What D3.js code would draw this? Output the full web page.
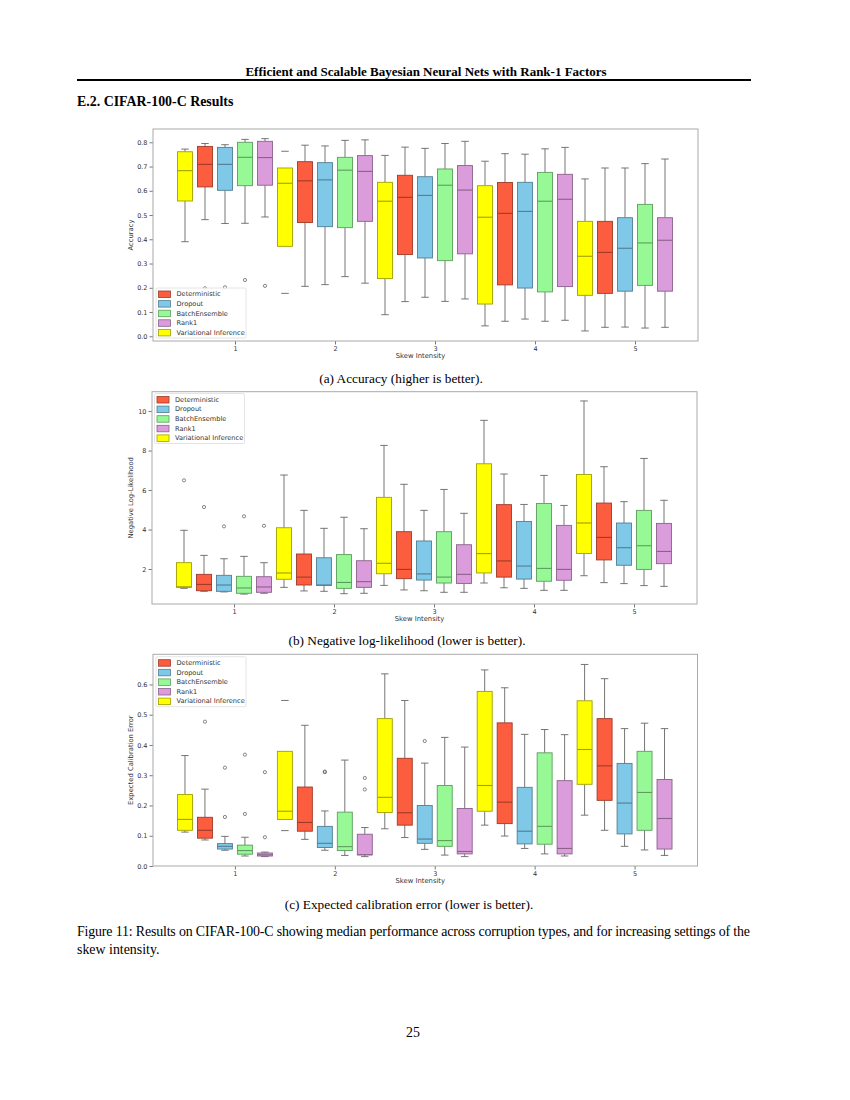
<!DOCTYPE html>
<html>
<head>
<meta charset="utf-8">
<script src="https://cdn.jsdelivr.net/npm/d3@7"></script>
<style>
  body { margin: 0; background: #fff; }
  .serif { font-family: "Liberation Serif", "Times New Roman", serif; fill: #000; }
  .sans { font-family: "DejaVu Sans", sans-serif; fill: #333; }
</style>
</head>
<body>
<div id="page"></div>
<script>
// methods, in legend order
const methods = ['Deterministic', 'Dropout', 'BatchEnsemble', 'Rank1', 'Variational Inference']
const fills = ['#fd5d3f', '#80c8e8', '#96f996', '#db9cdb', '#ffff00']
// VI is drawn half a step to the left of each skew level
const offsets = [-0.3, -0.1, 0.1, 0.3, -0.5]
const skews = [1, 2, 3, 4, 5]

// five-number summaries per skew level: [low whisker, q1, median, q3, high whisker]
const accDet = [[0.481, 0.616, 0.709, 0.783, 0.795], [0.206, 0.469, 0.641, 0.720, 0.788], [0.143, 0.337, 0.573, 0.664, 0.780], [0.062, 0.212, 0.507, 0.634, 0.753], [0.037, 0.177, 0.346, 0.474, 0.694]]
const accDrop = [[0.465, 0.602, 0.709, 0.779, 0.790], [0.213, 0.452, 0.645, 0.716, 0.785], [0.161, 0.323, 0.581, 0.658, 0.775], [0.071, 0.199, 0.515, 0.635, 0.751], [0.038, 0.186, 0.363, 0.489, 0.694]]
const accBE = [[0.466, 0.621, 0.738, 0.800, 0.812], [0.246, 0.448, 0.685, 0.738, 0.808], [0.144, 0.312, 0.623, 0.690, 0.795], [0.062, 0.183, 0.557, 0.676, 0.773], [0.034, 0.210, 0.385, 0.544, 0.712]]
const accR1 = [[0.492, 0.623, 0.737, 0.804, 0.815], [0.219, 0.474, 0.680, 0.745, 0.810], [0.154, 0.340, 0.603, 0.704, 0.804], [0.066, 0.205, 0.565, 0.668, 0.779], [0.037, 0.186, 0.396, 0.489, 0.731]]
const accVI = [[0.390, 0.558, 0.683, 0.761, 0.772], [0.177, 0.371, 0.631, 0.694, 0.763], [0.089, 0.238, 0.557, 0.635, 0.746], [0.043, 0.133, 0.491, 0.621, 0.722], [0.022, 0.169, 0.330, 0.474, 0.649]]
// [method index, skew index, value]
const accOutliers = [[0, 0, 0.198], [1, 0, 0.202], [2, 0, 0.232], [3, 0, 0.208]]
const accTicks = [0, 0.1, 0.2, 0.3, 0.4, 0.5, 0.6, 0.7, 0.8]

const nllDet = [[0.87, 0.90, 1.22, 1.73, 2.69], [0.89, 1.19, 1.59, 2.76, 4.97], [0.94, 1.51, 1.98, 3.89, 6.29], [1.05, 1.59, 2.41, 5.26, 6.81], [1.31, 2.46, 3.60, 5.34, 7.18]]
const nllDrop = [[0.84, 0.87, 1.19, 1.68, 2.52], [0.87, 1.17, 1.19, 2.57, 4.06], [0.90, 1.44, 1.75, 3.42, 4.97], [1.02, 1.49, 2.15, 4.41, 5.27], [1.26, 2.19, 3.08, 4.33, 5.41]]
const nllBE = [[0.73, 0.77, 1.04, 1.63, 2.64], [0.75, 1.02, 1.32, 2.73, 4.62], [0.82, 1.29, 1.59, 3.89, 6.03], [0.92, 1.38, 2.03, 5.32, 6.74], [1.16, 1.98, 3.18, 4.97, 7.60]]
const nllR1 = [[0.77, 0.82, 1.09, 1.61, 2.32], [0.77, 1.07, 1.36, 2.42, 4.04], [0.82, 1.27, 1.73, 3.23, 4.82], [0.92, 1.43, 1.98, 4.21, 5.22], [1.12, 2.27, 2.89, 4.31, 5.48]]
const nllVI = [[1.02, 1.07, 1.10, 2.32, 3.96], [1.07, 1.48, 1.80, 4.09, 6.76], [1.17, 1.76, 2.29, 5.63, 8.26], [1.29, 1.80, 2.78, 7.33, 9.53], [1.66, 2.79, 4.33, 6.79, 10.51]]
const nllOutliers = [[4, 0, 6.49], [0, 0, 5.14], [1, 0, 4.16], [2, 0, 4.67], [3, 0, 4.19]]
const nllTicks = [2, 4, 6, 8, 10]

const eceDet = [[0.086, 0.092, 0.118, 0.161, 0.254], [0.088, 0.115, 0.144, 0.261, 0.465], [0.094, 0.135, 0.176, 0.356, 0.547], [0.099, 0.140, 0.211, 0.473, 0.589], [0.118, 0.217, 0.331, 0.487, 0.619]]
const eceDrop = [[0.052, 0.056, 0.065, 0.074, 0.098], [0.052, 0.061, 0.075, 0.131, 0.182], [0.055, 0.075, 0.089, 0.200, 0.340], [0.058, 0.073, 0.115, 0.260, 0.435], [0.065, 0.106, 0.208, 0.339, 0.454]]
const eceBE = [[0.033, 0.039, 0.051, 0.069, 0.095], [0.035, 0.051, 0.064, 0.178, 0.350], [0.036, 0.065, 0.084, 0.266, 0.425], [0.040, 0.072, 0.131, 0.374, 0.451], [0.053, 0.118, 0.243, 0.379, 0.472]]
const eceR1 = [[0.031, 0.033, 0.037, 0.043, 0.046], [0.031, 0.037, 0.037, 0.105, 0.127], [0.031, 0.040, 0.048, 0.190, 0.393], [0.033, 0.040, 0.058, 0.282, 0.434], [0.035, 0.056, 0.157, 0.286, 0.454]]
const eceVI = [[0.112, 0.118, 0.154, 0.236, 0.365], [0.117, 0.154, 0.181, 0.379, 0.547], [0.123, 0.177, 0.227, 0.487, 0.635], [0.135, 0.181, 0.266, 0.577, 0.648], [0.168, 0.270, 0.385, 0.546, 0.666]]
const eceOutliers = [[0, 0, 0.477], [1, 0, 0.325], [1, 0, 0.162], [2, 0, 0.368], [2, 0, 0.172], [3, 0, 0.310], [3, 0, 0.095],
                     [1, 1, 0.310], [1, 1, 0.312], [3, 1, 0.291], [3, 1, 0.253], [1, 2, 0.413]]
const eceTicks = [0, 0.1, 0.2, 0.3, 0.4, 0.5, 0.6]

// boxes whose whisker stems are not drawn (only the caps show)
const accNoStem = [[4, 1]]
const eceNoStem = [[4, 1]]

const W = 850, H = 1100
const svg = d3.select('#page').append('svg')
  .attr('width', W).attr('height', H)
  .attr('xmlns', 'http://www.w3.org/2000/svg')
svg.append('rect').attr('width', W).attr('height', H).attr('fill', '#fff')

////////////////////
// page text
svg.append('text').attr('class', 'serif')
  .attr('x', 426).attr('y', 76).attr('text-anchor', 'middle')
  .attr('font-size', 13).attr('font-weight', 'bold')
  .text('Efficient and Scalable Bayesian Neural Nets with Rank-1 Factors')
svg.append('line').attr('x1', 77).attr('x2', 751).attr('y1', 80).attr('y2', 80)
  .attr('stroke', '#000').attr('stroke-width', 1.8)
svg.append('text').attr('class', 'serif')
  .attr('x', 77).attr('y', 106).attr('font-size', 13.9).attr('font-weight', 'bold')
  .text('E.2. CIFAR-100-C Results')

function caption(txt, x, y) {
  svg.append('text').attr('class', 'serif')
    .attr('x', x).attr('y', y).attr('text-anchor', 'middle').attr('font-size', 13.3)
    .text(txt)
}
caption('(a) Accuracy (higher is better).', 401, 383)
caption('(b) Negative log-likelihood (lower is better).', 407, 645)
caption('(c) Expected calibration error (lower is better).', 409, 909)

svg.append('text').attr('class', 'serif')
  .attr('x', 77).attr('y', 936).attr('font-size', 13.9)
  .attr('textLength', 673).attr('lengthAdjust', 'spacing')
  .text('Figure 11: Results on CIFAR-100-C showing median performance across corruption types, and for increasing settings of the')
svg.append('text').attr('class', 'serif')
  .attr('x', 77).attr('y', 954).attr('font-size', 13.9)
  .text('skew intensity.')
svg.append('text').attr('class', 'serif')
  .attr('x', 413).attr('y', 1037).attr('text-anchor', 'middle').attr('font-size', 13.9)
  .text('25')

////////////////////
function drawChart(cfg) {
  let g = svg.append('g')
  let x = d3.scaleLinear().domain([0.18, 5.63]).range([cfg.x0, cfg.x1])
  let y = d3.scaleLinear().domain(cfg.yDomain).range([cfg.y1, cfg.y0])
  let bw = x(0.15) - x(0)
  let cw = bw / 2

  // y axis
  let ya = g.append('g').attr('transform', `translate(${cfg.x0},0)`)
    .call(d3.axisLeft(y).tickValues(cfg.ticks).tickFormat(cfg.fmt).tickSize(3.5).tickPadding(2))
  let xa = g.append('g').attr('transform', `translate(0,${cfg.y1})`)
    .call(d3.axisBottom(x).tickValues(skews).tickFormat(d3.format('d')).tickSize(3.5).tickPadding(2))
  for (let a of [ya, xa]) {
    a.select('.domain').remove()
    a.selectAll('line').attr('stroke', '#555').attr('stroke-width', 0.8)
    a.selectAll('text').attr('class', 'sans').attr('font-size', 6.5).attr('fill', '#333')
  }

  g.append('text').attr('class', 'sans')
    .attr('transform', `translate(133,${(cfg.y0 + cfg.y1) / 2}) rotate(-90)`)
    .attr('text-anchor', 'middle').attr('font-size', 6.8)
    .text(cfg.ylabel)
  g.append('text').attr('class', 'sans')
    .attr('x', (cfg.x0 + cfg.x1) / 2 - 5).attr('y', cfg.y1 + 16.5)
    .attr('text-anchor', 'middle').attr('font-size', 6.8)
    .text('Skew Intensity')

  // boxes
  cfg.series.forEach((rows, m) => {
    let fill = fills[m]
    let edge = d3.color(fill).darker(1.3).formatHex()
    rows.forEach((s, k) => {
      let cx = x(skews[k] + offsets[m])
      let [lo, q1, med, q3, hi] = s
      let stem = !cfg.noStem.some(d => d[0] == m && d[1] == k)
      if (stem) {
        g.append('line').attr('x1', cx).attr('x2', cx).attr('y1', y(q3)).attr('y2', y(hi))
          .attr('stroke', '#666').attr('stroke-width', 0.9)
        g.append('line').attr('x1', cx).attr('x2', cx).attr('y1', y(q1)).attr('y2', y(lo))
          .attr('stroke', '#666').attr('stroke-width', 0.9)
      }
      for (let v of [lo, hi]) {
        g.append('line').attr('x1', cx - cw / 2).attr('x2', cx + cw / 2).attr('y1', y(v)).attr('y2', y(v))
          .attr('stroke', '#666').attr('stroke-width', 0.9)
      }
      g.append('rect')
        .attr('x', cx - bw / 2).attr('width', bw)
        .attr('y', y(q3)).attr('height', Math.max(0.5, y(q1) - y(q3)))
        .attr('fill', fill).attr('stroke', edge).attr('stroke-width', 0.9)
      g.append('line').attr('x1', cx - bw / 2).attr('x2', cx + bw / 2).attr('y1', y(med)).attr('y2', y(med))
        .attr('stroke', edge).attr('stroke-width', 1.1)
    })
  })

  // outliers
  g.selectAll('.outlier').data(cfg.outliers).enter().append('circle')
    .attr('cx', d => x(skews[d[1]] + offsets[d[0]]))
    .attr('cy', d => y(d[2]))
    .attr('r', 1.6).attr('fill', 'none').attr('stroke', '#555').attr('stroke-width', 0.7)

  // frame
  g.append('rect').attr('x', cfg.x0).attr('y', cfg.y0)
    .attr('width', cfg.x1 - cfg.x0).attr('height', cfg.y1 - cfg.y0)
    .attr('fill', 'none').attr('stroke', '#aaa').attr('stroke-width', 1)

  // legend
  let lg = g.append('g').attr('transform', `translate(${cfg.lx},${cfg.ly})`)
  lg.append('rect').attr('width', 90).attr('height', 50).attr('rx', 1.5)
    .attr('fill', '#fff').attr('fill-opacity', 0.85).attr('stroke', '#ddd').attr('stroke-width', 0.8)
  methods.forEach((name, i) => {
    let yy = 6 + i * 9.6
    lg.append('rect').attr('x', 2.5).attr('y', yy - 3).attr('width', 12).attr('height', 6.5)
      .attr('fill', fills[i]).attr('stroke', d3.color(fills[i]).darker(1.3).formatHex()).attr('stroke-width', 0.8)
    lg.append('text').attr('class', 'sans').attr('x', 20.5).attr('y', yy + 2.3)
      .attr('font-size', 6.6).text(name)
  })
}

drawChart({
  x0: 153, x1: 698, y0: 129, y1: 341, yDomain: [-0.0194, 0.8548],
  ticks: accTicks, fmt: d3.format('.1f'), ylabel: 'Accuracy',
  series: [accDet, accDrop, accBE, accR1, accVI], outliers: accOutliers, noStem: accNoStem,
  lx: 156, ly: 288
})
drawChart({
  x0: 152, x1: 697, y0: 391.7, y1: 604, yDomain: [0.228, 10.98],
  ticks: nllTicks, fmt: d3.format('d'), ylabel: 'Negative Log-Likelihood',
  series: [nllDet, nllDrop, nllBE, nllR1, nllVI], outliers: nllOutliers, noStem: [],
  lx: 154.5, ly: 393.5
})
drawChart({
  x0: 153, x1: 697.5, y0: 654.3, y1: 866, yDomain: [0, 0.6996],
  ticks: eceTicks, fmt: d3.format('.1f'), ylabel: 'Expected Calibration Error',
  series: [eceDet, eceDrop, eceBE, eceR1, eceVI], outliers: eceOutliers, noStem: eceNoStem,
  lx: 156, ly: 656.7
})
</script>
</body>
</html>
